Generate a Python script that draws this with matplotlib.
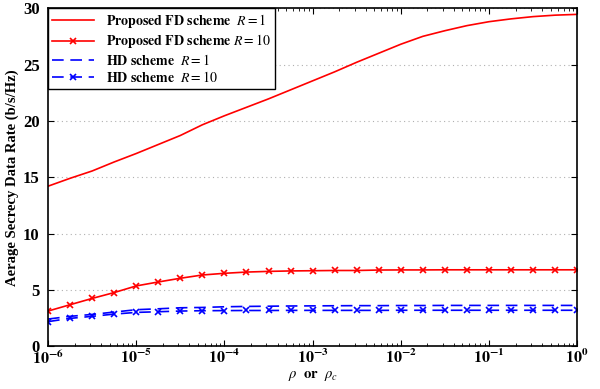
import numpy as np
import matplotlib
matplotlib.use("Agg")
import matplotlib.pyplot as plt
from matplotlib.ticker import FixedLocator, LogLocator, FuncFormatter, NullFormatter

plt.rcParams["font.family"] = ["Liberation Serif", "DejaVu Serif"]
plt.rcParams["mathtext.fontset"] = "stix"

# rho values, quarter-decade steps from 1e-6 to 1
exponents = np.arange(-6.0, 0.01, 0.25)
rho = 10.0 ** exponents

fd_r1 = [14.2, 14.9, 15.55, 16.35, 17.1, 17.9, 18.7, 19.65, 20.45, 21.2,
         21.95, 22.75, 23.55, 24.35, 25.2, 26.0, 26.8, 27.5, 28.0, 28.45,
         28.8, 29.05, 29.25, 29.38, 29.45]
fd_r10 = [3.12, 3.68, 4.24, 4.76, 5.35, 5.7, 6.03, 6.32, 6.47, 6.58,
          6.64, 6.68, 6.7, 6.72, 6.72, 6.76, 6.77, 6.77, 6.78, 6.78,
          6.78, 6.78, 6.78, 6.78, 6.78]
hd_r1 = [2.41, 2.65, 2.82, 3.03, 3.24, 3.32, 3.41, 3.44, 3.5, 3.53,
         3.55, 3.57, 3.58, 3.59, 3.6, 3.6, 3.61, 3.61, 3.62, 3.62,
         3.62, 3.62, 3.62, 3.62, 3.62]
hd_r10 = [2.18, 2.47, 2.65, 2.85, 3.0, 3.06, 3.12, 3.15, 3.16, 3.17,
          3.17, 3.18, 3.18, 3.18, 3.18, 3.18, 3.19, 3.19, 3.19, 3.19,
          3.19, 3.19, 3.19, 3.19, 3.19]

fig = plt.figure(figsize=(6.0, 3.89), dpi=100)
ax = fig.add_axes([0.08, 0.11, 0.882, 0.869])

ax.plot(rho, fd_r1, color="red", lw=1.2, label=r"$\mathbf{Proposed\ FD\ scheme}$  $R=1$")
ax.plot(rho, fd_r10, color="red", lw=1.2, marker="x", ms=4, mew=1.2,
        label=r"$\mathbf{Proposed\ FD\ scheme}$ $R=10$")
ax.plot(rho, hd_r1, color="blue", lw=1.2, ls=(0, (7, 4)),
        label=r"$\mathbf{HD\ scheme}$  $R=1$")
ax.plot(rho, hd_r10, color="blue", lw=1.2, ls=(0, (7, 4)), marker="x", ms=4, mew=1.2,
        label=r"$\mathbf{HD\ scheme}$  $R=10$")

ax.set_xscale("log")
ax.set_xlim(1e-6, 1)
ax.set_ylim(0, 30)
ax.xaxis.set_major_locator(FixedLocator(10.0 ** np.arange(-6, 1)))
ax.xaxis.set_minor_locator(LogLocator(base=10, subs=np.arange(2, 10)))
ax.xaxis.set_minor_formatter(NullFormatter())
ax.xaxis.set_major_formatter(FuncFormatter(lambda v, p: r"$\mathbf{10^{%d}}$" % round(np.log10(v))))
ax.set_yticks([0, 5, 10, 15, 20, 25, 30])
ax.set_yticklabels(["0", "5", "10", "15", "20", "25", "30"], fontweight="bold")

ax.tick_params(which="both", direction="in", top=True, right=True, labelsize=12)
ax.tick_params(axis="x", which="major", pad=2, labelsize=11.5)
ax.tick_params(axis="y", which="major", pad=6)
ax.tick_params(which="major", length=4)
ax.tick_params(which="minor", length=2)
ax.grid(True, axis="y", color="#b0b0b0", ls=(0, (1, 3)), lw=0.8)
for s in ax.spines.values():
    s.set_linewidth(1.2)

ax.set_ylabel("Aerage Secrecy Data Rate (b/s/Hz)", fontsize=10.5, fontweight="bold", labelpad=3)
ax.set_xlabel(r"$\rho$  $\mathbf{or}$  $\rho_c$", fontsize=10.5)
ax.xaxis.set_label_coords(0.5, -0.068)

leg = ax.legend(loc="upper left", fontsize=10, frameon=True, fancybox=False,
                borderaxespad=0, handlelength=3.0, labelspacing=0.15,
                borderpad=0.3, handletextpad=0.9)
leg.get_frame().set_edgecolor("black")
leg.get_frame().set_linewidth(1.0)
leg.get_frame().set_alpha(1)

fig.savefig("out.png", dpi=100)
